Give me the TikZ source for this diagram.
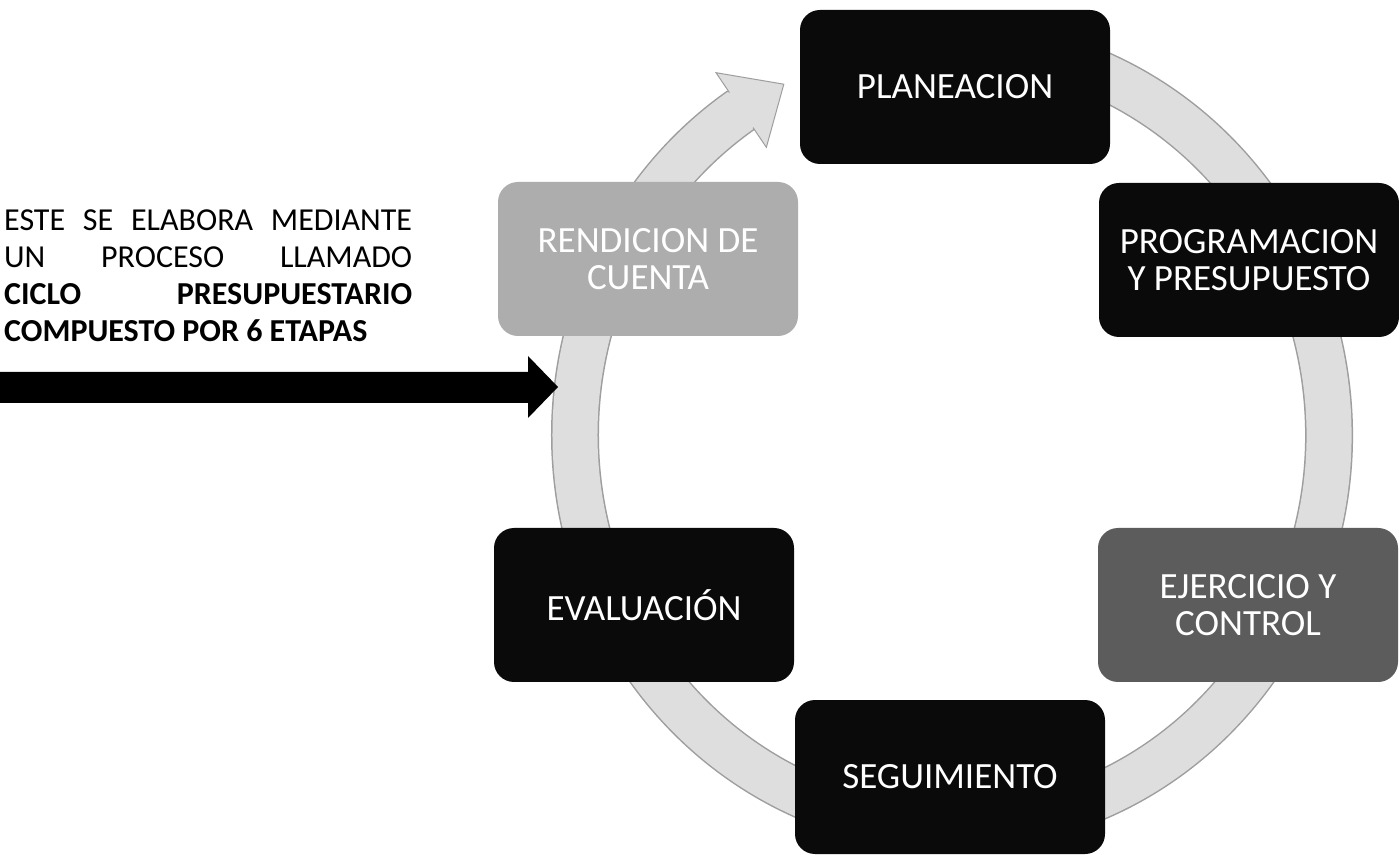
\documentclass[tikz,border=0pt]{standalone}
\usepackage{fontspec}
\setmainfont{Carlito}
\definecolor{ringfill}{gray}{0.87}
\definecolor{ringedge}{gray}{0.62}
\definecolor{boxdark}{gray}{0.04}
\definecolor{boxmid}{gray}{0.36}
\definecolor{boxlight}{gray}{0.68}
\begin{document}
\begin{tikzpicture}[x=1pt,y=1pt,
  stage/.style={rounded corners=20pt, minimum width=300pt, minimum height=154pt,
    inner sep=0pt, align=center, text=white, fill=boxdark,
    font=\fontsize{37}{37}\selectfont},
  wide/.style={minimum width=310pt},
  note/.style={anchor=north west, inner sep=0pt, align=left,
    font=\fontsize{32}{37}\selectfont}]
\useasboundingbox (0,0) rectangle (1399,854);
\fill[white] (0,0) rectangle (1399,854);
% ring behind the stages
\coordinate (c) at (952,419);
\begin{scope}[shift={(c)}]
  \draw[line width=48pt, ringedge] (100:377 and 392) arc[start angle=100, end angle=-236, x radius=377, y radius=392];
  \draw[line width=45pt, ringfill] (100:377 and 392) arc[start angle=100, end angle=-236, x radius=377, y radius=392];
  \filldraw[fill=ringfill, draw=ringedge, line width=1pt, line join=miter]
    (124:422 and 437) -- (116.5:377 and 392) -- (124:332 and 347) -- cycle;
  \fill[ringfill] (124.4:356 and 371) -- (124.4:398 and 413) -- (122:398 and 413) -- (122:356 and 371) -- cycle;
\end{scope}
% stages
\node[stage, wide] (plan) at (955,767) {PLANEACION};
\node[stage] (prog) at (1249,594) {PROGRAMACION\\Y PRESUPUESTO};
\node[stage, fill=boxmid] (ejer) at (1248,249) {EJERCICIO Y\\CONTROL};
\node[stage, wide] (segu) at (950,77) {SEGUIMIENTO};
\node[stage] (eval) at (644,249) {EVALUACIÓN};
\node[stage, fill=boxlight] (rend) at (648,595) {RENDICION DE\\CUENTA};
% left note
\node[note] (txt) at (4,644) {%
  \hbox to 408pt{ESTE\hfill SE\hfill ELABORA\hfill MEDIANTE}\\
  \hbox to 408pt{UN\hfill PROCESO\hfill LLAMADO}\\
  \hbox to 408pt{\bfseries CICLO\hfill PRESUPUESTARIO}\\
  {\bfseries COMPUESTO POR 6 ETAPAS}};
% big arrow
\coordinate (tip) at (558,467);
\fill[black] (0,451) -- (528,451) -- (528,436) -- (tip) -- (528,498) -- (528,482) -- (0,482) -- cycle;
\end{tikzpicture}
\end{document}
